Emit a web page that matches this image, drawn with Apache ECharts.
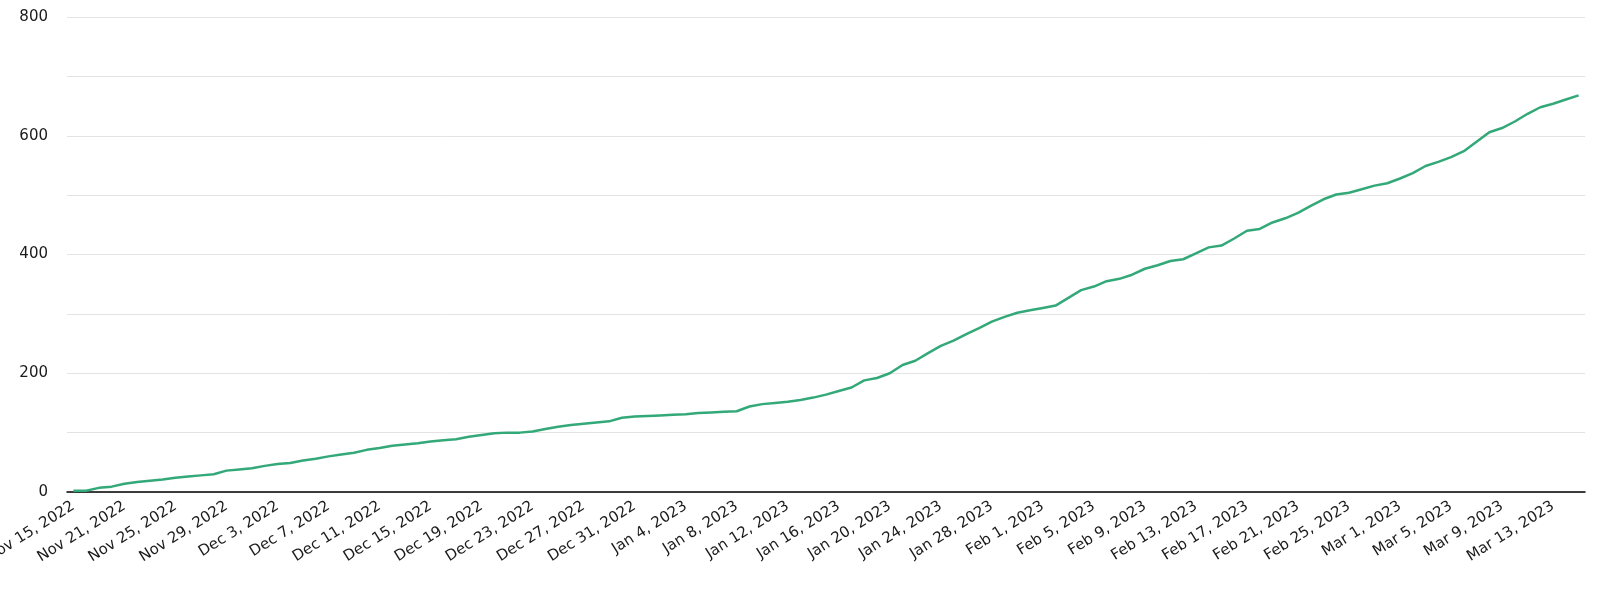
<!DOCTYPE html>
<html>
<head>
<meta charset="utf-8">
<script src="https://cdn.jsdelivr.net/npm/echarts@6/dist/echarts.min.js"></script>
<style>
html,body{margin:0;padding:0;background:#fff;}
#chart{width:1600px;height:599px;}
</style>
</head>
<body>
<div id="chart"></div>
<script>
// Categories: first day, then a continuous daily run (Nov 16-17 absent in source)
const firstDate = '2022-11-15';
const runStart = '2022-11-18';
const runEnd = '2023-03-15';
const monthNames = ['Jan','Feb','Mar','Apr','May','Jun','Jul','Aug','Sep','Oct','Nov','Dec'];

// Cumulative count per category
const values = [
  2, 2, 7, 9, 14, 17, 19, 21, 24, 26,
  28, 30, 36, 38, 40, 44, 47, 49, 53, 56,
  60, 63, 66, 71, 74, 78, 80, 82, 85, 87,
  89, 93, 96, 99, 100, 100, 102, 106, 110, 113,
  115, 117, 119, 125, 127, 128, 129, 130, 131, 133,
  134, 135, 136, 144, 148, 150, 152, 155, 159, 164,
  170, 176, 188, 192, 200, 214, 221, 234, 246, 255,
  266, 276, 287, 295, 302, 306, 310, 314, 327, 340,
  346, 355, 359, 366, 376, 382, 389, 392, 402, 412,
  415, 427, 440, 443, 454, 461, 470, 482, 493, 501,
  504, 510, 516, 520, 528, 537, 549, 556, 564, 574,
  590, 606, 613, 624, 637, 648, 654, 661, 668
];

const yTicks = [0, 200, 400, 600, 800];

function fmt(d){ return monthNames[d.getUTCMonth()] + ' ' + d.getUTCDate() + ', ' + d.getUTCFullYear(); }
const categories = [fmt(new Date(firstDate + 'T00:00:00Z'))];
for (let d = new Date(runStart + 'T00:00:00Z'); d <= new Date(runEnd + 'T00:00:00Z'); d.setUTCDate(d.getUTCDate() + 1)) {
  categories.push(fmt(d));
}

const chart = echarts.init(document.getElementById('chart'), null, {renderer: 'canvas'});
chart.setOption({
  animation: false,
  backgroundColor: '#ffffff',
  grid: {left: 67, right: 15, top: 17, bottom: 107, containLabel: false, outerBoundsMode: 'none'},
  xAxis: {
    type: 'category',
    data: categories,
    boundaryGap: true,
    axisLine: {show: true, lineStyle: {color: '#000', width: 1.5}},
    axisTick: {show: false},
    splitLine: {show: false},
    axisLabel: {
      interval: 3,
      rotate: 32,
      margin: 13,
      color: '#1a1a1a',
      fontFamily: 'DejaVu Sans',
      fontSize: 15
    }
  },
  yAxis: {
    type: 'value',
    min: 0,
    max: 800,
    interval: 100,
    axisLine: {show: false},
    axisTick: {show: false},
    splitLine: {show: true, lineStyle: {color: '#e3e3e3', width: 1}},
    axisLabel: {
      margin: 19,
      color: '#1a1a1a',
      fontFamily: 'DejaVu Sans',
      fontSize: 15,
      formatter: function(v){ return yTicks.indexOf(v) >= 0 ? String(v) : ''; }
    }
  },
  series: [{
    type: 'line',
    data: values,
    showSymbol: false,
    symbol: 'none',
    smooth: false,
    lineStyle: {color: '#33a878', width: 2.5},
    itemStyle: {color: '#33a878'}
  }]
});
</script>
</body>
</html>
